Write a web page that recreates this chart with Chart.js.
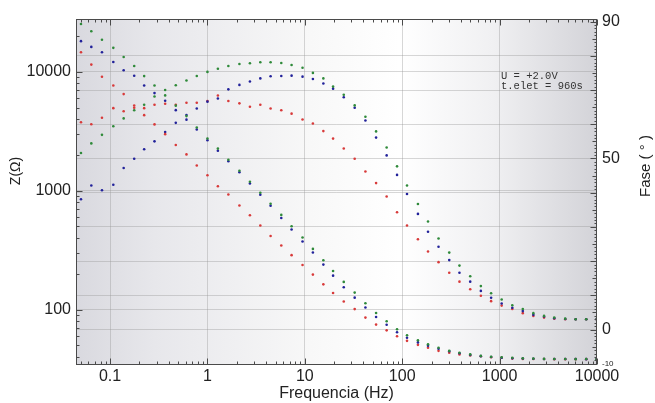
<!DOCTYPE html>
<html>
<head>
<meta charset="utf-8">
<title>Z / Fase x Frequencia</title>
<script src="https://cdn.jsdelivr.net/npm/chart.js@4.4.1/dist/chart.umd.min.js"></script>
<style>
html,body{margin:0;padding:0;background:#fff}
canvas{display:block}
</style>
</head>
<body>
<canvas id="cv" width="655" height="403"></canvas>
<script>
/* ---- dados ---- */
// frequência (Hz), ~9 pontos por década
const freq = [0.0503,0.0642,0.0826,0.108,0.138,0.177,0.224,0.286,0.368,0.473,
  0.609,0.777,1.00,1.28,1.64,2.13,2.73,3.49,4.45,5.73,
  7.31,9.47,12.1,15.5,19.5,25.1,32.5,41.9,53.9,69.2,
  88.5,112,145,184,236,304,387,499,642,818,
  1050,1350,1730,2220,2860,3640,4720,6040,7750,9900];

// |Z| (Ω)
const zGreen = [25200,21900,18600,15900,13300,11200,9200,7680,6330,5190,
  4240,3400,2750,2260,1820,1470,1190,962,777,626,
  502,404,324,260,211,171,139,113,93.6,79.7,
  68.3,60.8,55.1,51.0,47.7,45.0,43.3,42.0,40.8,40.1,
  39.7,39.3,38.9,38.7,38.5,38.4,38.4,38.3,38.4,38.3];
const zBlue = [18100,16200,14600,12100,10300,9250,7680,6620,5700,4760,
  3960,3270,2660,2170,1770,1430,1150,925,748,590,
  471,374,302,239,193,154,126,104,86.6,74.5,
  64.4,57.9,53.0,49.6,46.8,44.6,42.9,41.6,40.6,39.9,
  39.4,39.0,38.8,38.6,38.4,38.4,38.4,38.4,38.3,38.4];
const zRed = [14600,11500,9080,7680,6490,5210,4320,3610,2990,2420,
  2020,1630,1350,1090,929,751,622,510,416,346,
  287,237,197,163,138,117,101,85.6,74.8,66.9,
  59.6,54.6,50.5,47.7,45.0,43.3,42.0,41.2,40.5,39.7,
  39.3,38.7,38.5,38.4,38.4,38.3,38.3,38.3,38.3,38.3];

// fase (graus)
const phGreen = [51.6,54.4,56.9,59.4,61.7,64.1,65.7,68.1,70.0,71.4,
  72.8,74.1,75.3,76.2,77.0,77.6,77.8,78.1,78.1,77.9,
  77.3,76.5,75.0,73.4,71.0,68.6,65.5,62.2,57.9,53.2,
  47.7,42.1,36.7,31.6,26.6,22.5,18.7,15.6,12.7,10.6,
  8.8,7.1,6.0,4.8,4.0,3.5,3.2,3.0,3.0,3.0];
const phBlue = [38.1,42.1,40.7,42.3,47.2,49.9,52.7,55.0,57.7,60.4,
  62.7,64.6,66.6,67.5,70.2,71.5,72.5,73.4,74.0,74.1,
  74.2,73.9,73.2,71.9,70.4,67.9,64.8,61.1,56.1,50.9,
  45.2,39.6,33.8,28.6,24.2,20.3,16.6,14.0,11.3,9.3,
  7.6,6.4,5.4,4.3,3.8,3.3,3.1,3.0,3.0,3.0];
const phRed = [60.6,60.0,61.9,64.7,63.8,64.8,64.7,65.7,66.0,65.7,
  66.3,66.3,66.8,68.4,66.8,66.1,65.1,65.7,64.6,64.1,
  63.1,61.4,60.2,58.0,55.8,52.9,49.9,46.2,42.8,38.9,
  34.3,30.4,26.4,22.8,19.7,16.6,14.0,11.8,9.9,8.3,
  7.0,6.0,4.8,4.0,3.5,3.2,3.0,3.0,3.0,3.0];

// rótulos dos eixos
const freqTicks = [0.1,1,10,100,1000,10000];
const freqLabels = ['0.1','1','10','100','1000','10000'];
const zTicks = [100,1000,10000];
const zLabels = ['100','1000','10000'];
const phaseTicks = [-10,0,50,90];
const noteLines = ['U = +2.0V','t.elet = 960s'];

/* ---- estilo ---- */
const FONT = "'Liberation Sans', Arial, Helvetica, sans-serif";
const GRID = 'rgba(150,150,150,0.38)';
const C_RED = '#d83a3a', C_BLUE = '#22229a', C_GREEN = '#2f8a3a';

const near = (v, list) => list.findIndex(t => Math.abs(v / t - 1) < 1e-6);
const isDecade = v => v > 0 && Math.abs(Math.log10(v) - Math.round(Math.log10(v))) < 1e-6;
const pts = arr => freq.map((f, i) => ({x: f, y: arr[i]}));

function ds(label, arr, color, axis){
  return {label, data: pts(arr), yAxisID: axis, showLine: false,
    pointRadius: 1.3, pointBorderWidth: 0, pointBackgroundColor: color,
    borderColor: color, backgroundColor: color};
}

// marcas de escala log (1..9 x década)
function logMarks(lo, hi){
  const out = [];
  for(let e = -3; e <= 5; e++){
    for(let m = 1; m <= 9; m++){
      const v = m * Math.pow(10, e);
      if(v >= lo * 0.9999 && v <= hi * 1.0001) out.push({v, major: m === 1});
    }
  }
  return out;
}

const decor = {
  id: 'decor',
  beforeDraw(c){
    const {ctx, chartArea: a} = c;
    ctx.save();
    ctx.fillStyle = '#fff';
    ctx.fillRect(0, 0, c.width, c.height);
    const g = ctx.createLinearGradient(a.left, 0, a.right, 0);
    g.addColorStop(0, '#d9d9df');
    g.addColorStop(0.15, '#e7e7eb');
    g.addColorStop(0.45, '#f8f8f8');
    g.addColorStop(0.62, '#ffffff');
    g.addColorStop(0.8, '#f0f0f2');
    g.addColorStop(1, '#d3d3d8');
    ctx.fillStyle = g;
    ctx.fillRect(a.left, a.top, a.right - a.left, a.bottom - a.top);
    ctx.restore();
  },
  afterDraw(c){
    const {ctx, chartArea: a} = c;
    const X = c.scales.x, Y = c.scales.y, P = c.scales.y2;
    ctx.save();
    ctx.strokeStyle = '#4a4a4a';
    ctx.lineWidth = 1;
    const line = (x1, y1, x2, y2) => { ctx.beginPath(); ctx.moveTo(x1, y1); ctx.lineTo(x2, y2); ctx.stroke(); };
    const L = Math.round(a.left) + 0.5, R = Math.round(a.right) - 0.5;
    const T = Math.round(a.top) + 0.5, B = Math.round(a.bottom) - 0.5;
    // marcas internas
    logMarks(X.min, X.max).forEach(t => {
      const px = Math.round(X.getPixelForValue(t.v)) + 0.5;
      const n = t.major ? 6 : 3;
      line(px, B, px, B - n);
      line(px, T, px, T + n);
    });
    logMarks(Y.min, Y.max).forEach(t => {
      const py = Math.round(Y.getPixelForValue(t.v)) + 0.5;
      line(L, py, L + (t.major ? 6 : 3), py);
    });
    for(let d = -10; d <= 90; d++){
      const py = Math.round(P.getPixelForValue(d)) + 0.5;
      const n = d % 10 === 0 ? 6 : (d % 5 === 0 ? 4 : 2);
      line(R, py, R - n, py);
    }
    // moldura
    ctx.strokeRect(L, T, R - L, B - T);

    // títulos
    ctx.fillStyle = '#222';
    ctx.textAlign = 'center';
    ctx.textBaseline = 'middle';
    ctx.font = '16px ' + FONT;
    ctx.fillText('Frequencia (Hz)', (a.left + a.right) / 2, 394);
    ctx.save();
    ctx.translate(16, 171);
    ctx.rotate(-Math.PI / 2);
    ctx.font = '14px ' + FONT;
    ctx.fillText('Z(\u03A9)', 0, 0);
    ctx.restore();
    ctx.save();
    ctx.translate(646, 166);
    ctx.rotate(-Math.PI / 2);
    ctx.font = '15px ' + FONT;
    ctx.fillText('Fase ( \u00B0 )', 0, 0);
    ctx.restore();

    // anotação
    ctx.textAlign = 'left';
    ctx.textBaseline = 'alphabetic';
    ctx.fillStyle = '#333';
    ctx.font = "10.5px 'Liberation Mono', 'DejaVu Sans Mono', monospace";
    noteLines.forEach((s, i) => ctx.fillText(s, 501, 78.5 + i * 10.5));
    ctx.restore();
  }
};

new Chart(document.getElementById('cv'), {
  type: 'scatter',
  data: {datasets: [
    ds('|Z| verde', zGreen, C_GREEN, 'y'),
    ds('|Z| azul', zBlue, C_BLUE, 'y'),
    ds('|Z| vermelho', zRed, C_RED, 'y'),
    ds('Fase verde', phGreen, C_GREEN, 'y2'),
    ds('Fase azul', phBlue, C_BLUE, 'y2'),
    ds('Fase vermelho', phRed, C_RED, 'y2')
  ]},
  options: {
    responsive: false,
    animation: false,
    layout: {padding: {top: 19, left: 0, right: 0, bottom: 0}},
    plugins: {legend: {display: false}, tooltip: {enabled: false}},
    scales: {
      x: {
        type: 'logarithmic', position: 'bottom', min: 0.0447, max: 10000,
        afterFit: s => { s.height = 38; },
        border: {display: false},
        grid: {drawTicks: false,
          color: ctx => (ctx.tick && isDecade(ctx.tick.value) && ctx.tick.value < 9999) ? GRID : 'transparent'},
        ticks: {autoSkip: false, maxRotation: 0, padding: 2, color: '#222',
          font: {family: FONT, size: 16},
          callback: v => { const i = near(v, freqTicks); return i < 0 ? '' : freqLabels[i]; }}
      },
      y: {
        type: 'logarithmic', position: 'left', min: 34.2, max: 27800,
        afterFit: s => { s.width = 76; },
        border: {display: false},
        grid: {drawTicks: false,
          color: ctx => (ctx.tick && near(ctx.tick.value, zTicks) >= 0) ? GRID : 'transparent'},
        ticks: {autoSkip: false, padding: 5, color: '#222',
          font: {family: FONT, size: 16},
          callback: v => { const i = near(v, zTicks); return i < 0 ? '' : zLabels[i]; }}
      },
      y2: {
        type: 'linear', position: 'right', min: -10.35, max: 90.75,
        afterFit: s => { s.width = 58; },
        border: {display: false},
        grid: {drawTicks: false,
          color: ctx => (ctx.tick && ctx.tick.value > -10 && ctx.tick.value < 90) ? GRID : 'transparent'},
        ticks: {stepSize: 10, includeBounds: false, autoSkip: false, padding: 5, color: '#222',
          font: ctx => ({family: FONT, size: (ctx.tick && ctx.tick.value === -10) ? 8 : 16}),
          callback: v => phaseTicks.includes(v) ? String(v) : ''}
      }
    }
  },
  plugins: [decor]
});
</script>
</body>
</html>
